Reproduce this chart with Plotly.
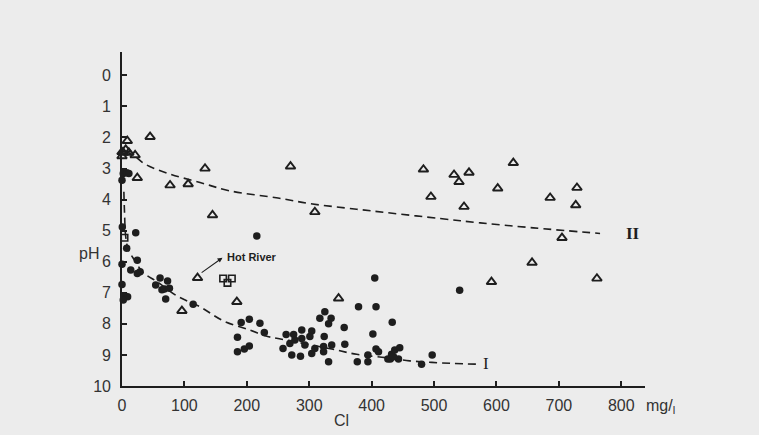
import plotly.graph_objects as go

# ---- data (Cl in mg/l, pH) ----
circle_cl = [2, 7.5, 11, 0, 0.5, 22, 7.5, 0, 24.5, 14, 24.5, 29, 0,
             54, 61, 64, 68, 73, 76, 70, 5, 9, 2, 114, 216,
             191, 204, 221, 228, 185, 185, 196, 204,
             263, 275, 288, 304, 301, 277, 288, 293, 269, 258, 272, 286, 304, 309,
             323, 323, 324, 317, 325, 335, 331, 336, 331, 356, 357, 377, 379,
             394, 394, 402, 407, 407, 411, 405,
             426, 433, 432, 437, 445, 430, 443, 435, 480, 497, 541]
circle_ph = [3.16, 3.14, 3.16, 3.38, 4.88, 5.07, 5.57, 6.08, 5.95, 6.27, 6.38, 6.32, 6.73,
             6.75, 6.52, 6.9, 6.88, 6.62, 6.85, 7.2, 7.1, 7.13, 7.23, 7.37, 5.17,
             7.96, 7.85, 7.98, 8.28, 8.43, 8.9, 8.81, 8.71,
             8.34, 8.34, 8.2, 8.23, 8.41, 8.52, 8.47, 8.68, 8.63, 8.79, 9.0, 9.04, 8.95, 8.79,
             8.73, 8.9, 8.41, 7.82, 7.61, 7.82, 8.0, 8.68, 9.22, 8.12, 8.66, 9.22, 7.45,
             9.0, 9.22, 8.33, 7.45, 8.81, 8.9, 6.52,
             9.13, 7.95, 8.98, 8.84, 8.77, 9.13, 9.13, 9.06, 9.3, 9.0, 6.92]

tri_cl = [8.5, 45, 0, 2, 6, 11, 21, 0, 24.5, 133, 77, 106, 145, 270,
          483, 532, 556, 540, 627, 495, 602, 548, 309, 657, 592,
          686, 729, 727, 705, 761, 121, 184, 96, 347]
tri_ph = [2.11, 1.98, 2.47, 2.49, 2.39, 2.49, 2.57, 2.6, 3.3, 3.0, 3.54, 3.5, 4.5, 2.93,
          3.03, 3.2, 3.13, 3.43, 2.82, 3.91, 3.64, 4.23, 4.4, 6.03, 6.65,
          3.94, 3.62, 4.18, 5.23, 6.54, 6.52, 7.29, 7.58, 7.18]

sq_cl = [4, 162, 176, 169]
sq_ph = [5.23, 6.54, 6.54, 6.68]

curve1_cl = [3, 4, 6, 10, 20, 34, 56, 88, 125, 162, 205, 232, 250, 336, 376, 424, 461, 526, 575]
curve1_ph = [3.75, 4.4, 5.2, 5.6, 5.95, 6.35, 6.64, 7.1, 7.45, 7.9, 8.2, 8.4, 8.47, 8.81, 8.98, 9.09, 9.19, 9.27, 9.3]

curve2_cl = [5, 18, 37, 77, 125, 173, 250, 301, 376, 424, 510, 574, 659, 766]
curve2_ph = [2.45, 2.57, 2.86, 3.18, 3.45, 3.72, 3.95, 4.13, 4.31, 4.42, 4.61, 4.75, 4.91, 5.09]

x_ticks = [0, 100, 200, 300, 400, 500, 600, 700, 800]
y_ticks = list(range(0, 11))

INK = "#1e1e1e"
BG = "#ececec"
FONT = "Liberation Sans"

fig = go.Figure()

dash = "8px,5px"
fig.add_trace(go.Scatter(x=curve1_cl, y=curve1_ph, mode="lines",
                         line=dict(color=INK, width=1.6, dash=dash, shape="spline"),
                         cliponaxis=False, showlegend=False, hoverinfo="skip"))
fig.add_trace(go.Scatter(x=curve2_cl, y=curve2_ph, mode="lines",
                         line=dict(color=INK, width=1.6, dash=dash, shape="spline"),
                         cliponaxis=False, showlegend=False, hoverinfo="skip"))

fig.add_trace(go.Scatter(x=circle_cl, y=circle_ph, mode="markers",
                         marker=dict(symbol="circle", size=7.5, color=INK,
                                     line=dict(width=0)),
                         cliponaxis=False, showlegend=False))
fig.add_trace(go.Scatter(x=tri_cl, y=tri_ph, mode="markers",
                         marker=dict(symbol="triangle-up-open", size=8.5, color=INK,
                                     line=dict(width=1.9, color=INK)),
                         cliponaxis=False, showlegend=False))
fig.add_trace(go.Scatter(x=sq_cl, y=sq_ph, mode="markers",
                         marker=dict(symbol="square-open", size=6.5, color=INK,
                                     line=dict(width=1.6, color=INK)),
                         cliponaxis=False, showlegend=False))

annotations = [
    dict(x=583, y=9.26, text="I", showarrow=False,
         font=dict(family="Liberation Serif", size=17, color=INK)),
    dict(x=818, y=5.08, text="<b>II</b>", showarrow=False,
         font=dict(family="Liberation Serif", size=17, color=INK)),
    dict(x=208, y=5.86, text="<b>Hot River</b>", showarrow=False,
         font=dict(family=FONT, size=11, color=INK)),
    dict(x=161, y=5.87, ax=122, ay=6.43, axref="x", ayref="y", text=" ",
         showarrow=True, arrowhead=2, arrowsize=0.9, arrowwidth=1.1, arrowcolor=INK),
    dict(xref="paper", yref="paper", x=-0.063, y=0.398, xanchor="center", yanchor="middle",
         text="pH", showarrow=False, font=dict(family=FONT, size=16, color="#333")),
    dict(xref="paper", yref="paper", x=0.419, y=-0.104, xanchor="center", yanchor="middle",
         text="Cl", showarrow=False, font=dict(family=FONT, size=16, color="#333")),
    dict(xref="paper", yref="paper", x=0.998, y=-0.06, xanchor="left", yanchor="middle",
         text="mg/<sub>l</sub>", showarrow=False,
         font=dict(family=FONT, size=16, color="#333")),
]

fig.update_layout(
    width=759, height=435,
    margin=dict(l=122, r=114, t=52, b=49),
    paper_bgcolor=BG, plot_bgcolor=BG,
    font=dict(family=FONT, size=16, color="#333"),
    annotations=annotations,
    xaxis=dict(range=[0, 838], tickvals=x_ticks, ticks="inside", ticklen=5,
               tickwidth=1.5, tickcolor=INK, showline=True, linecolor=INK,
               linewidth=1.6, showgrid=False, zeroline=False,
               ticklabelstandoff=4, tickfont=dict(size=16, color="#333")),
    yaxis=dict(range=[10, -0.75], tickvals=y_ticks, ticks="inside", ticklen=5,
               tickwidth=1.5, tickcolor=INK, showline=True, linecolor=INK,
               linewidth=1.6, showgrid=False, zeroline=False,
               ticklabelstandoff=6, tickfont=dict(size=16, color="#333")),
)

fig.write_html(
    "out.html",
    config={"displayModeBar": False},
    post_script="document.body.style.margin='0';document.body.style.overflow='hidden';",
)
